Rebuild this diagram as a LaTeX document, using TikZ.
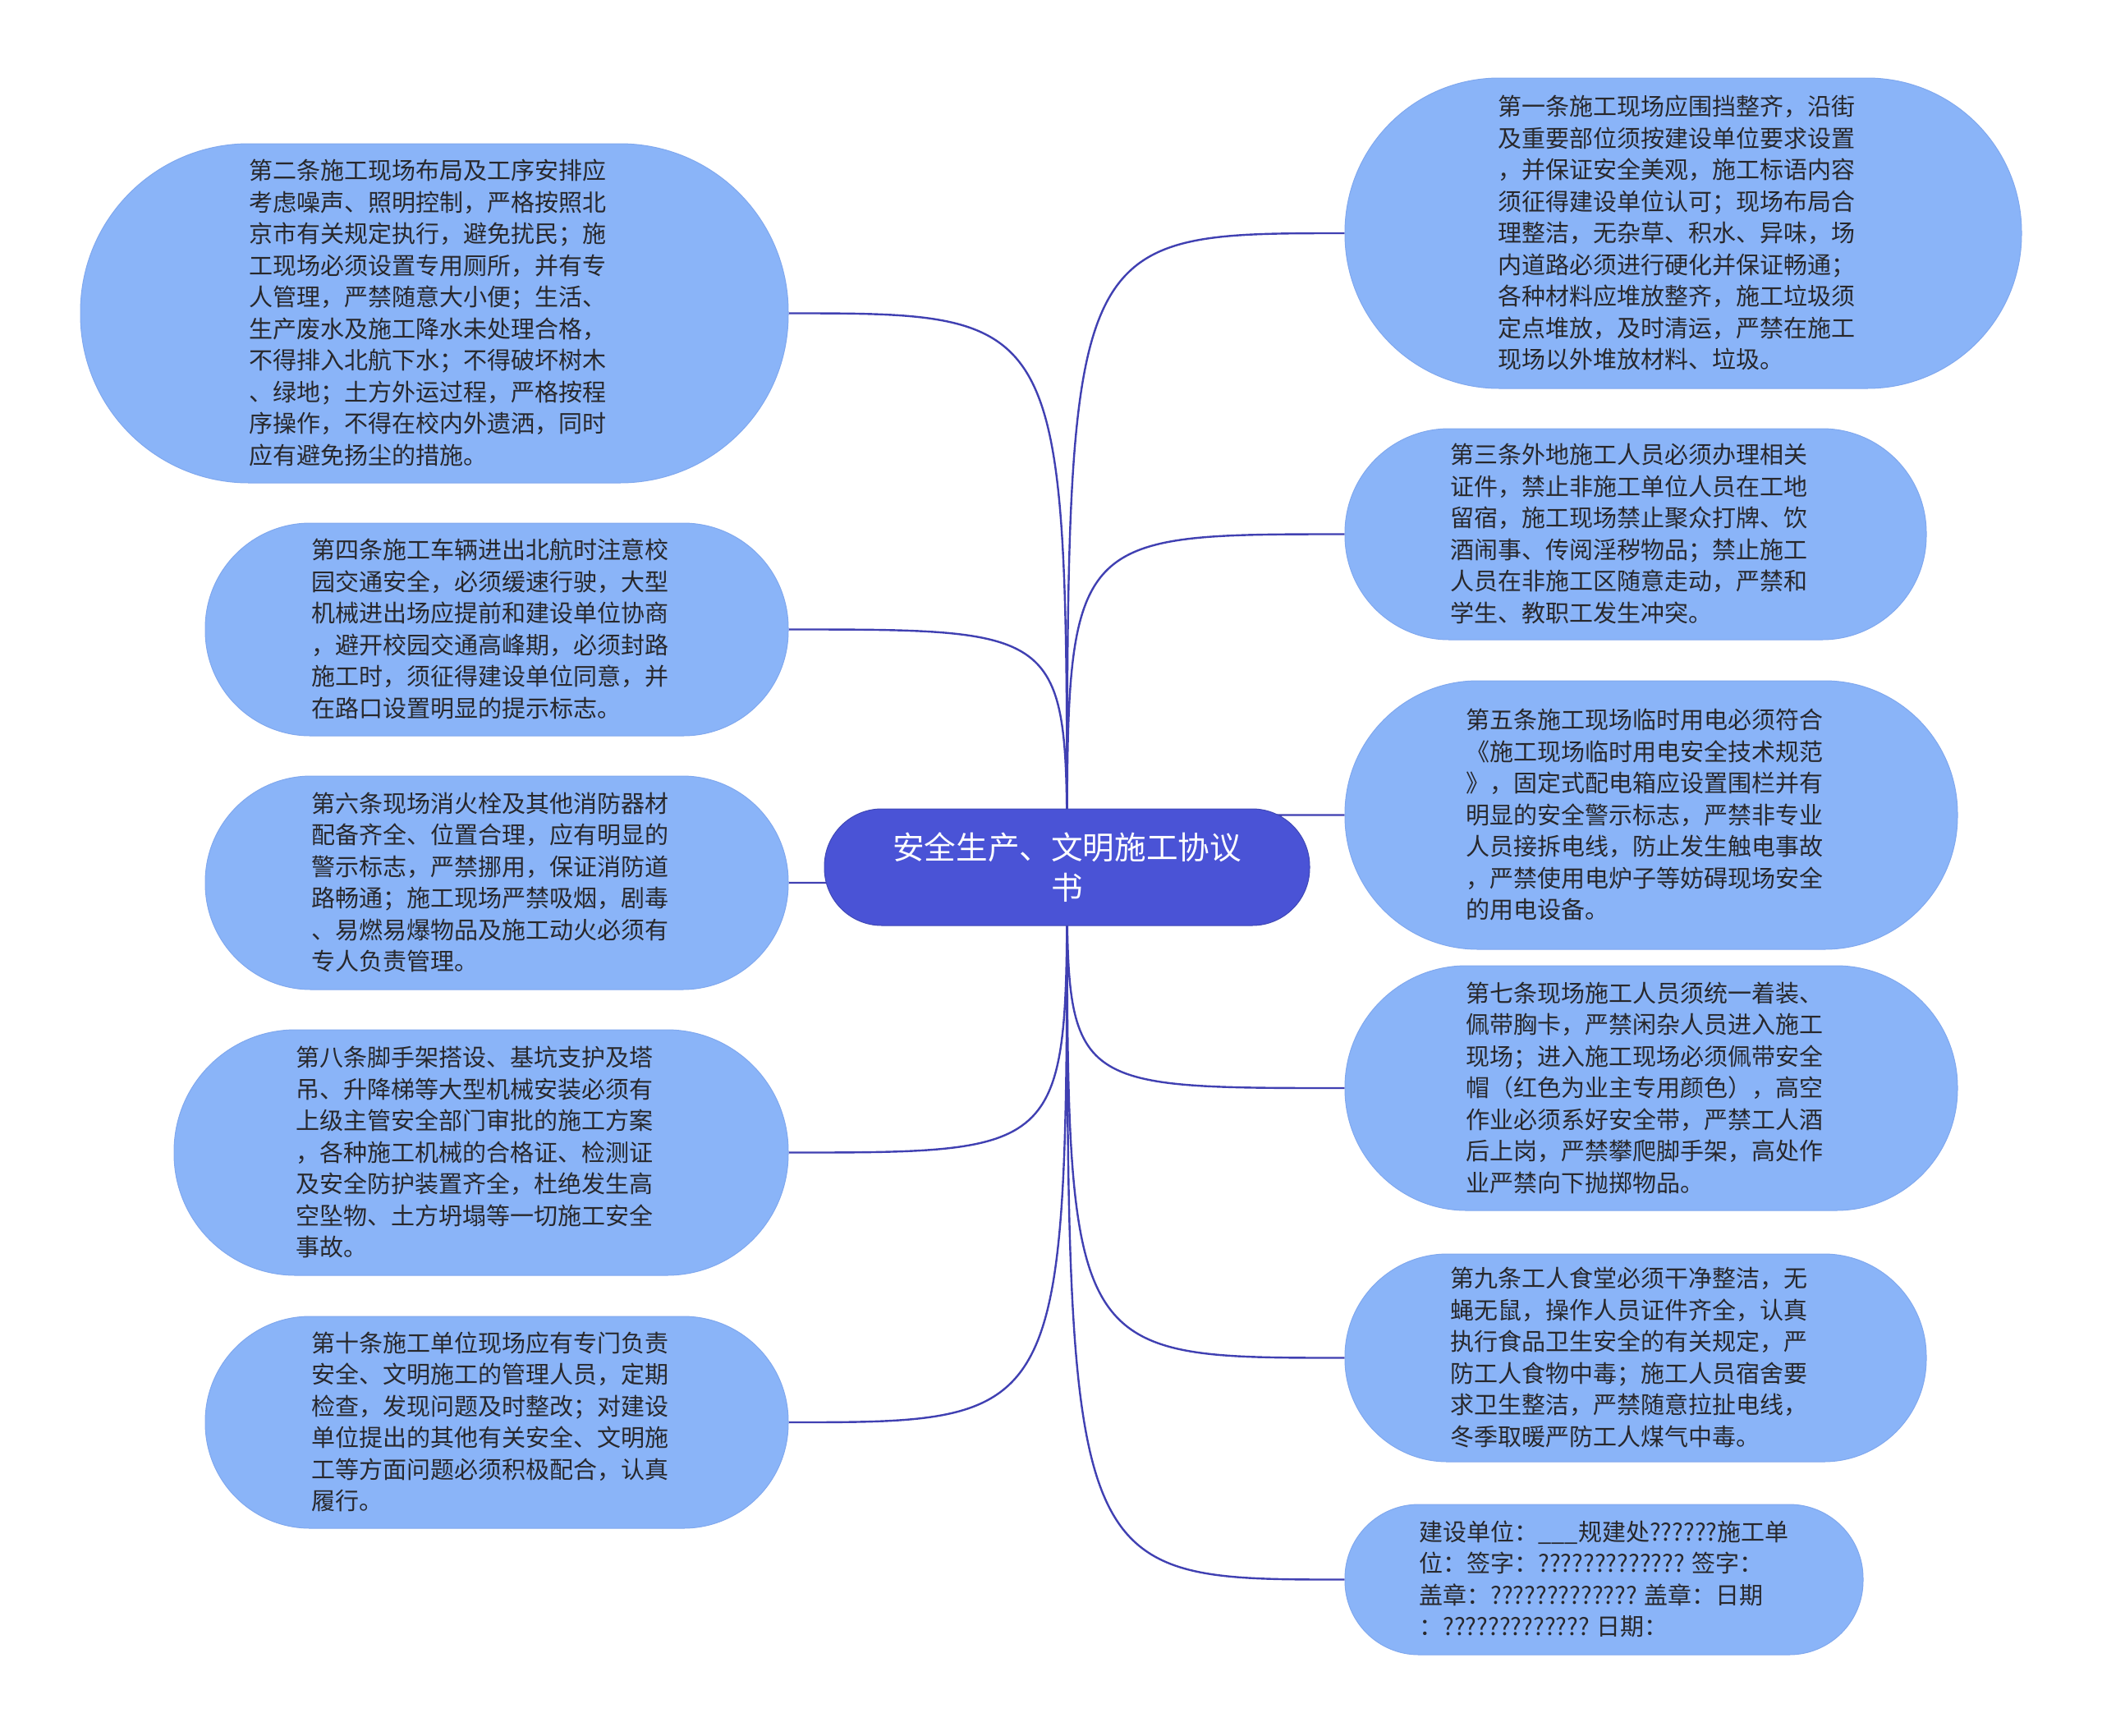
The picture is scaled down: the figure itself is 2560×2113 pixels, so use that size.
\documentclass[tikz,border=0pt]{standalone}
\usepackage{fontspec}
\setmainfont{Noto Sans CJK SC}
\usetikzlibrary{backgrounds}
\definecolor{leafblue}{RGB}{138,180,248}
\definecolor{leafedge}{RGB}{128,168,238}
\definecolor{centerblue}{RGB}{74,83,214}
\definecolor{connblue}{RGB}{64,64,178}
\definecolor{textdark}{RGB}{40,40,44}
\newcommand\leaftext[2][16pt]{\raisebox{0pt}[\dimexpr\height+6pt\relax][\depth]{\begin{tabular}{@{}l@{\hspace{#1}}}#2\end{tabular}}}
\begin{document}
\begin{tikzpicture}[x=1pt,y=-1pt,
  leaf/.style={fill=leafblue, draw=leafedge, line width=1pt, text=textdark,
    font=\fontsize{29pt}{38.5pt}\selectfont, inner sep=0pt},
  hub/.style={fill=centerblue, draw=centerblue!85!black, line width=1pt, text=white, align=center,
    font=\fontsize{38.6pt}{49pt}\selectfont, inner sep=0pt},
  conn/.style={draw=connblue, line width=2.4pt}]
\useasboundingbox (0,0) rectangle (2560,2113);

\node[hub, minimum width=591pt, minimum height=142pt, rounded corners=70pt] (c) at (1299.5,1056) {安全生产、文明施工协议\\书};

% left side
\node[leaf, minimum width=862pt, minimum height=413pt, rounded corners=205pt] (l2) at (529,381.5) {\leaftext{第二条施工现场布局及工序安排应\\考虑噪声、照明控制，严格按照北\\京市有关规定执行，避免扰民；施\\工现场必须设置专用厕所，并有专\\人管理，严禁随意大小便；生活、\\生产废水及施工降水未处理合格，\\不得排入北航下水；不得破坏树木\\、绿地；土方外运过程，严格按程\\序操作，不得在校内外遗洒，同时\\应有避免扬尘的措施。}};
\node[leaf, minimum width=710pt, minimum height=259pt, rounded corners=128pt] (l4) at (605,766.5) {\leaftext{第四条施工车辆进出北航时注意校\\园交通安全，必须缓速行驶，大型\\机械进出场应提前和建设单位协商\\，避开校园交通高峰期，必须封路\\施工时，须征得建设单位同意，并\\在路口设置明显的提示标志。}};
\node[leaf, minimum width=710pt, minimum height=260pt, rounded corners=129pt] (l6) at (605,1075) {\leaftext{第六条现场消火栓及其他消防器材\\配备齐全、位置合理，应有明显的\\警示标志，严禁挪用，保证消防道\\路畅通；施工现场严禁吸烟，剧毒\\、易燃易爆物品及施工动火必须有\\专人负责管理。}};
\node[leaf, minimum width=748pt, minimum height=299pt, rounded corners=148pt] (l8) at (586,1403.5) {\leaftext{第八条脚手架搭设、基坑支护及塔\\吊、升降梯等大型机械安装必须有\\上级主管安全部门审批的施工方案\\，各种施工机械的合格证、检测证\\及安全防护装置齐全，杜绝发生高\\空坠物、土方坍塌等一切施工安全\\事故。}};
\node[leaf, minimum width=710pt, minimum height=258pt, rounded corners=128pt] (l10) at (605,1732) {\leaftext{第十条施工单位现场应有专门负责\\安全、文明施工的管理人员，定期\\检查，发现问题及时整改；对建设\\单位提出的其他有关安全、文明施\\工等方面问题必须积极配合，认真\\履行。}};

% right side
\node[leaf, minimum width=824pt, minimum height=378pt, rounded corners=188pt] (r1) at (2050,284) {\leaftext{第一条施工现场应围挡整齐，沿街\\及重要部位须按建设单位要求设置\\，并保证安全美观，施工标语内容\\须征得建设单位认可；现场布局合\\理整洁，无杂草、积水、异味，场\\内道路必须进行硬化并保证畅通；\\各种材料应堆放整齐，施工垃圾须\\定点堆放，及时清运，严禁在施工\\现场以外堆放材料、垃圾。}};
\node[leaf, minimum width=708pt, minimum height=257pt, rounded corners=127pt] (r3) at (1992,650.5) {\leaftext{第三条外地施工人员必须办理相关\\证件，禁止非施工单位人员在工地\\留宿，施工现场禁止聚众打牌、饮\\酒闹事、传阅淫秽物品；禁止施工\\人员在非施工区随意走动，严禁和\\学生、教职工发生冲突。}};
\node[leaf, minimum width=746pt, minimum height=327pt, rounded corners=162pt] (r5) at (2011,992.5) {\leaftext{第五条施工现场临时用电必须符合\\《施工现场临时用电安全技术规范\\》，固定式配电箱应设置围栏并有\\明显的安全警示标志，严禁非专业\\人员接拆电线，防止发生触电事故\\，严禁使用电炉子等妨碍现场安全\\的用电设备。}};
\node[leaf, minimum width=746pt, minimum height=298pt, rounded corners=148pt] (r7) at (2011,1325) {\leaftext{第七条现场施工人员须统一着装、\\佩带胸卡，严禁闲杂人员进入施工\\现场；进入施工现场必须佩带安全\\帽（红色为业主专用颜色），高空\\作业必须系好安全带，严禁工人酒\\后上岗，严禁攀爬脚手架，高处作\\业严禁向下抛掷物品。}};
\node[leaf, minimum width=708pt, minimum height=253pt, rounded corners=125pt] (r9) at (1992,1653.5) {\leaftext{第九条工人食堂必须干净整洁，无\\蝇无鼠，操作人员证件齐全，认真\\执行食品卫生安全的有关规定，严\\防工人食物中毒；施工人员宿舍要\\求卫生整洁，严禁随意拉扯电线，\\冬季取暖严防工人煤气中毒。}};
\node[leaf, minimum width=631pt, minimum height=183pt, rounded corners=90pt] (rs) at (1953.5,1923.5) {\leaftext[0pt]{建设单位：\_\_\_规建处??????施工单\\位：签字：????????????? 签字：\\盖章：????????????? 盖章：日期\\：????????????? 日期：}};

\begin{scope}[on background layer]
\fill[white] (0,0) rectangle (2560,2113);
\foreach \n in {l2,l4,l6,l8,l10}
  \draw[conn] (c.center) .. controls (c.center |- \n.east) and (c.center |- \n.east) .. (\n.east);
\foreach \n in {r1,r3,r5,r7,r9,rs}
  \draw[conn] (c.center) .. controls (c.center |- \n.west) and (c.center |- \n.west) .. (\n.west);
\end{scope}
\end{tikzpicture}
\end{document}
